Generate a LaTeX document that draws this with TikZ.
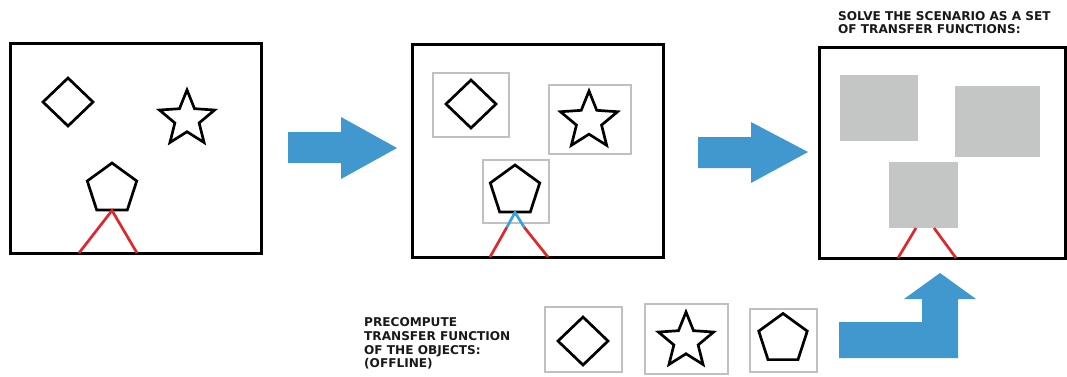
\documentclass[tikz,border=0pt]{standalone}
\usepackage{fontspec}
\setmainfont{DejaVu Sans}
\definecolor{arrowblue}{RGB}{64,152,206}
\definecolor{linkblue}{RGB}{58,160,216}
\definecolor{boxgray}{RGB}{192,192,192}
\definecolor{fillgray}{RGB}{196,198,197}
\definecolor{camred}{RGB}{222,40,44}
\tikzset{
  frame/.style={draw=black, line width=3pt},
  obj/.style={draw=black, line width=2.7pt, line join=miter},
  gbox/.style={draw=boxgray, line width=2.3pt},
  gfill/.style={fill=fillgray, draw=none},
  cam/.style={draw=camred, line width=2.7pt},
  camblue/.style={draw=linkblue, line width=2.7pt},
  bigarrow/.style={fill=arrowblue, draw=none},
  lbl/.style={font=\fontsize{12.1}{14}\selectfont\bfseries, anchor=base west, inner sep=0pt, text=black!90}
}
\newcommand{\mydiamond}[4]{\draw[obj] (#1-#3,#2) -- (#1,#2-#4) -- (#1+#3,#2) -- (#1,#2+#4) -- cycle;}
\newcommand{\mystar}[3]{\draw[obj, shift={(#1,#2)}] (-90:#3) -- (-54:0.44*#3) -- (-18:#3) -- (18:0.44*#3) -- (54:#3) -- (90:0.44*#3) -- (126:#3) -- (162:0.44*#3) -- (198:#3) -- (234:0.44*#3) -- cycle;}
\newcommand{\mypent}[3]{\draw[obj, shift={(#1,#2)}] (-90:#3) -- (-18:#3) -- (54:#3) -- (126:#3) -- (198:#3) -- cycle;}
\begin{document}
\begin{tikzpicture}[x=1pt,y=-1pt]
\useasboundingbox (0,0) rectangle (1067,376);
\clip (0,0) rectangle (1067,376);
% ---------- panel 1
\draw[frame] (10,43) rectangle (261,253);
\mydiamond{68}{102}{25}{24}
\mystar{187}{119}{29}
\mypent{112}{189}{26}
\coordinate (p1apex) at (112,210.5);
\coordinate (p1l) at (79,253);
\coordinate (p1r) at (137,253);
\draw[cam] (p1l) -- (p1apex) -- (p1r);
% ---------- arrow 1
\fill[bigarrow] (288,132) -- (341,132) -- (341,117) -- (397,148) -- (341,179) -- (341,163) -- (288,163) -- cycle;
% ---------- panel 2
\draw[frame] (412,44) rectangle (663,257);
\draw[gbox] (433,73) rectangle (509,137);
\draw[gbox] (549,85) rectangle (631,154);
\draw[gbox] (483,160) rectangle (549,223);
\mydiamond{471}{104}{25}{24}
\mystar{589}{121}{30}
\mypent{515}{191}{26}
\coordinate (p2apex) at (515,212.5);
\coordinate (p2bl) at (507,227);
\coordinate (p2br) at (524,227);
\coordinate (p2l) at (490,257);
\coordinate (p2r) at (548,257);
\draw[cam] (p2bl) -- (p2l);
\draw[cam] (p2br) -- (p2r);
\draw[camblue] (p2bl) -- (p2apex) -- (p2br);
% ---------- arrow 2
\fill[bigarrow] (698,137) -- (751,137) -- (751,122) -- (808,152) -- (751,183) -- (751,168) -- (698,168) -- cycle;
% ---------- panel 3
\node[lbl] (t1) at (838,20) {SOLVE THE SCENARIO AS A SET};
\node[lbl] (t2) at (838,33) {OF TRANSFER FUNCTIONS:};
\draw[frame] (819,47) rectangle (1065,258);
\fill[gfill] (840,75) rectangle (918,141);
\fill[gfill] (955,86) rectangle (1040,157);
\fill[gfill] (889,162) rectangle (958,228);
\coordinate (p3a) at (916,228);
\coordinate (p3b) at (934,228);
\coordinate (p3l) at (898,258);
\coordinate (p3r) at (956,258);
\draw[cam] (p3a) -- (p3l);
\draw[cam] (p3b) -- (p3r);
% ---------- bottom row
\node[lbl] (b1) at (364,326) {PRECOMPUTE};
\node[lbl] (b2) at (364,340) {TRANSFER FUNCTION};
\node[lbl] (b3) at (364,354) {OF THE OBJECTS:};
\node[lbl] (b4) at (364,367) {(OFFLINE)};
\draw[gbox] (545,307) rectangle (622,372);
\mydiamond{583}{341}{25}{24}
\draw[gbox] (645,304) rectangle (728,374);
\mystar{686}{341}{29}
\draw[gbox] (750,309) rectangle (817,372);
\mypent{783}{339}{25.5}
% L arrow
\fill[bigarrow] (839,322) -- (922,322) -- (922,299) -- (904,299) -- (940,273) -- (976,299) -- (958,299) -- (958,358) -- (839,358) -- cycle;
\end{tikzpicture}
\end{document}
